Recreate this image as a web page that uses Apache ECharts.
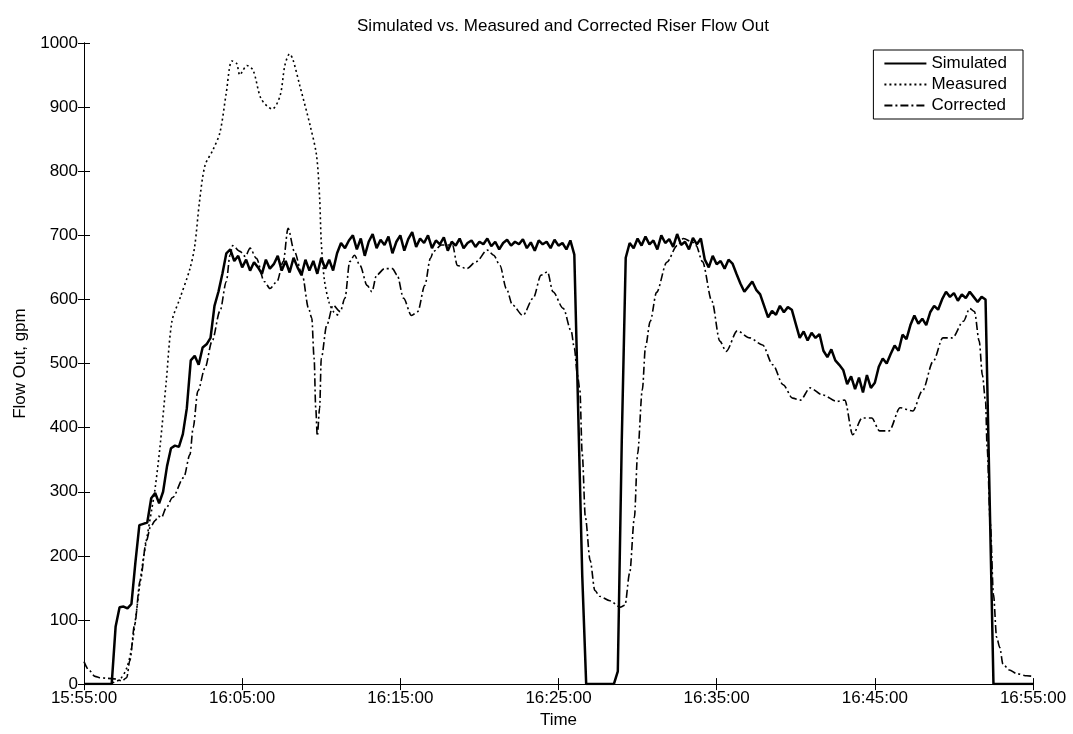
<!DOCTYPE html>
<html>
<head>
<meta charset="utf-8">
<title>Riser Flow Out</title>
<script src="https://cdn.jsdelivr.net/npm/echarts@6/dist/echarts.min.js"></script>
<style>
  html, body { margin: 0; padding: 0; background: #fff; }
  #chart { width: 1073px; height: 734px; }
</style>
</head>
<body>
<div id="chart"></div>
<script>
// minutes after 15:55:00
var xTicks = [0, 10, 20, 30, 40, 50, 60];
var startClock = [15, 55, 0];

// Simulated: one value every 0.25 min, 15:55:00 .. 16:55:00
var simStep = 0.25;
var simValues = [
  0, 0, 0, 0, 0, 0, 0, 0,
  90, 120, 121, 118, 125, 190, 248, 250,
  252, 290, 298, 282, 300, 340, 368, 372,
  370, 390, 430, 505, 512, 498, 525, 530,
  540, 590, 612, 640, 672, 678, 660, 668,
  650, 662, 645, 658, 650, 640, 662, 648,
  655, 668, 645, 660, 642, 665, 650, 638,
  662, 645, 660, 640, 665, 648, 662, 645,
  672, 688, 680, 692, 700, 678, 695, 668,
  690, 702, 680, 693, 685, 698, 672, 690,
  700, 676, 694, 705, 682, 695, 688, 700,
  680, 692, 686, 697, 676, 690, 684, 695,
  680, 688, 692, 682, 690, 686, 695, 683,
  690, 678, 688, 693, 684, 690, 686, 694,
  680, 689, 676, 692, 686, 690, 680, 693,
  684, 688, 678, 692, 670, 420, 170, 0,
  0, 0, 0, 0, 0, 0, 0, 20,
  380, 665, 688, 680, 695, 684, 698, 686,
  692, 678, 700, 688, 694, 682, 702, 685,
  690, 678, 696, 686, 695, 662, 650, 668,
  655, 660, 648, 662, 656, 640, 625, 612,
  620, 628, 615, 608, 590, 572, 582, 576,
  590, 580, 588, 584, 562, 540, 550, 536,
  548, 540, 546, 520, 510, 522, 505, 498,
  490, 468, 480, 460, 478, 455, 482, 462,
  470, 495, 508, 500, 515, 528, 520, 545,
  538, 560, 575, 562, 570, 560, 580, 590,
  584, 600, 612, 604, 610, 598, 608, 602,
  612, 604, 596, 604, 600, 300, 0, 0,
  0, 0, 0, 0, 0, 0, 0, 0,
  0
];

var measTimes = [
  1.8, 2.3, 2.7, 3.0, 3.3, 3.7, 4.3, 4.5, 4.8, 5.2,
  5.56, 6.07, 6.7, 7.0, 7.3, 7.65, 8.15, 8.6, 9.0, 9.35,
  9.65, 9.85, 10.0, 10.3, 10.7, 11.2, 11.9, 12.4, 12.7, 13.0,
  13.2, 13.65, 14.3, 14.7, 14.9, 15.0, 15.2, 15.5, 15.8, 16.1
];
var measValues = [
  2, 8, 25, 55, 110, 187, 275, 306, 369, 472,
  566, 602, 648, 683, 752, 809, 833, 861, 923, 972,
  968, 950, 955, 965, 957, 913, 897, 918, 965, 983,
  975, 933, 871, 825, 757, 690, 630, 595, 580, 575
];

var corrTimes = [
  0, 0.3, 0.7, 1.0, 1.5, 2.0, 2.4, 2.7, 2.9, 3.2,
  3.55, 3.95, 4.2, 4.5, 4.7, 4.9, 5.2, 5.6, 6.3, 6.7,
  6.9, 7.2, 7.65, 8.1, 8.6, 9.0, 9.23, 9.4, 9.86, 10.2,
  10.5, 10.9, 11.4, 11.76, 12.2, 12.6, 12.9, 13.3, 13.8, 14.2,
  14.4, 14.55, 14.65, 14.75, 14.9, 15.0, 15.35, 15.75, 16.2, 16.5,
  16.8, 17.1, 17.45, 17.9, 18.2, 18.5, 19.0, 19.5, 19.8, 20.2,
  20.7, 21.1, 21.55, 21.9, 22.1, 22.6, 23.3, 23.6, 24.2, 24.8,
  25.5, 25.9, 26.3, 26.7, 27.1, 27.75, 28.4, 28.9, 29.3, 29.65,
  30.3, 30.8, 31.0, 31.2, 31.35, 31.5, 31.7, 32.0, 32.3, 32.6,
  33.25, 33.9, 34.2, 34.5, 34.8, 35.0, 35.3, 35.5, 35.8, 36.2,
  36.85, 37.5, 37.9, 38.5, 38.7, 39.1, 39.7, 40.2, 40.6, 41.3,
  42.1, 42.9, 43.55, 44.2, 44.8, 45.3, 45.9, 46.7, 47.6, 48.1,
  48.6, 49.2, 49.8, 50.3, 50.9, 51.6, 52.4, 53.0, 53.7, 54.3,
  54.9, 55.6, 56.0, 56.3, 56.6, 56.8, 57.0, 57.1, 57.3, 57.5,
  57.7, 57.9, 58.1, 58.5, 59.0, 59.6, 60
];
var corrValues = [
  35, 22, 12, 10, 9, 8, 5, 10, 37, 93,
  161, 224, 245, 255, 262, 260, 275, 291, 322, 358,
  400, 457, 493, 535, 582, 628, 669, 684, 675, 667,
  680, 664, 628, 617, 628, 659, 711, 675, 638, 586,
  571, 508, 431, 387, 431, 508, 560, 591, 581, 602,
  659, 669, 653, 622, 612, 638, 648, 648, 638, 602,
  575, 581, 622, 664, 675, 685, 685, 653, 648, 659,
  677, 669, 653, 617, 591, 575, 602, 638, 643, 612,
  586, 551, 524, 482, 459, 359, 260, 193, 146, 137,
  130, 120, 123, 173, 260, 359, 459, 526, 566, 611,
  658, 684, 695, 689, 684, 659, 597, 535, 519, 551,
  540, 529, 498, 467, 446, 443, 462, 451, 441, 443,
  389, 415, 415, 395, 395, 431, 426, 457, 504, 540,
  540, 566, 586, 581, 535, 482, 441, 369, 250, 140,
  73, 57, 31, 22, 16, 13, 12
];

function pairs(times, values) {
  var out = [];
  for (var i = 0; i < values.length; i++) out.push([times[i], values[i]]);
  return out;
}

var simData = [];
for (var i = 0; i < simValues.length; i++) simData.push([i * simStep, simValues[i]]);

function pad(n) { return n < 10 ? '0' + n : '' + n; }
function clock(min) {
  var total = startClock[0] * 60 + startClock[1] + min;
  var h = Math.floor(total / 60), m = Math.round(total % 60);
  return pad(h) + ':' + pad(m) + ':' + pad(startClock[2]);
}

var font = 'Liberation Sans, Arial, sans-serif';
var chart = echarts.init(document.getElementById('chart'), null, { renderer: 'canvas' });

var option = {
  animation: false,
  backgroundColor: '#ffffff',
  title: {
    text: 'Simulated vs. Measured and Corrected Riser Flow Out',
    left: 558,
    top: 13,
    textAlign: 'center',
    textStyle: { fontFamily: font, fontSize: 17, fontWeight: 'normal', color: '#000' }
  },
  legend: {
    orient: 'vertical',
    right: 50,
    top: 50,
    padding: [5, 16, 5, 10],
    itemGap: 4,
    itemWidth: 42,
    itemHeight: 14,
    borderColor: '#000',
    borderWidth: 1,
    backgroundColor: '#fff',
    itemStyle: { opacity: 0 },
    textStyle: { fontFamily: font, fontSize: 17, color: '#000' },
    data: ['Simulated', 'Measured', 'Corrected']
  },
  grid: { left: 84, right: 40, top: 43, bottom: 47, containLabel: false },
  xAxis: [
    {
      type: 'value',
      min: 0, max: 60, interval: 10,
      name: 'Time',
      nameLocation: 'middle',
      nameGap: 26,
      nameTextStyle: { fontFamily: font, fontSize: 17, color: '#000' },
      axisLine: { lineStyle: { color: '#000', width: 1 } },
      axisTick: { inside: true, length: 6, lineStyle: { color: '#000' } },
      axisLabel: {
        fontFamily: font, fontSize: 17, color: '#000', margin: 6,
        formatter: function (v) { return xTicks.indexOf(v) >= 0 ? clock(v) : ''; }
      },
      splitLine: { show: false }
    },
    {
      type: 'value',
      position: 'top',
      min: 0, max: 60, interval: 10,
      axisLine: { lineStyle: { color: '#000', width: 1 } },
      axisTick: { inside: true, length: 6, lineStyle: { color: '#000' } },
      axisLabel: { show: false },
      splitLine: { show: false }
    }
  ],
  yAxis: [
    {
      type: 'value',
      min: 0, max: 1000, interval: 100,
      name: 'Flow Out, gpm',
      nameLocation: 'middle',
      nameGap: 54,
      nameTextStyle: { fontFamily: font, fontSize: 17, color: '#000' },
      axisLine: { show: true, lineStyle: { color: '#000', width: 1 } },
      axisTick: { show: true, inside: true, length: 6, lineStyle: { color: '#000' } },
      axisLabel: {
        fontFamily: font, fontSize: 17, color: '#000', margin: 6,
        formatter: function (v) { return String(v); }
      },
      splitLine: { show: false }
    },
    {
      type: 'value',
      position: 'right',
      min: 0, max: 1000, interval: 100,
      axisLine: { show: true, lineStyle: { color: '#000', width: 1 } },
      axisTick: { show: true, inside: true, length: 6, lineStyle: { color: '#000' } },
      axisLabel: { show: false },
      splitLine: { show: false }
    }
  ],
  series: [
    {
      name: 'Simulated',
      type: 'line',
      data: simData,
      symbol: 'none',
      itemStyle: { color: '#000' },
      lineStyle: { color: '#000', width: 2.5 }
    },
    {
      name: 'Measured',
      type: 'line',
      data: pairs(measTimes, measValues),
      symbol: 'none',
      smooth: 0.3,
      itemStyle: { color: '#000' },
      lineStyle: { color: '#000', width: 1.6, type: [2, 3] }
    },
    {
      name: 'Corrected',
      type: 'line',
      data: pairs(corrTimes, corrValues),
      symbol: 'none',
      smooth: 0.3,
      smoothMonotone: 'x',
      itemStyle: { color: '#000' },
      lineStyle: { color: '#000', width: 1.6, type: [8, 3, 2, 3] }
    }
  ]
};

chart.setOption(option);
window.addEventListener('resize', function () { chart.resize(); });
</script>
</body>
</html>
